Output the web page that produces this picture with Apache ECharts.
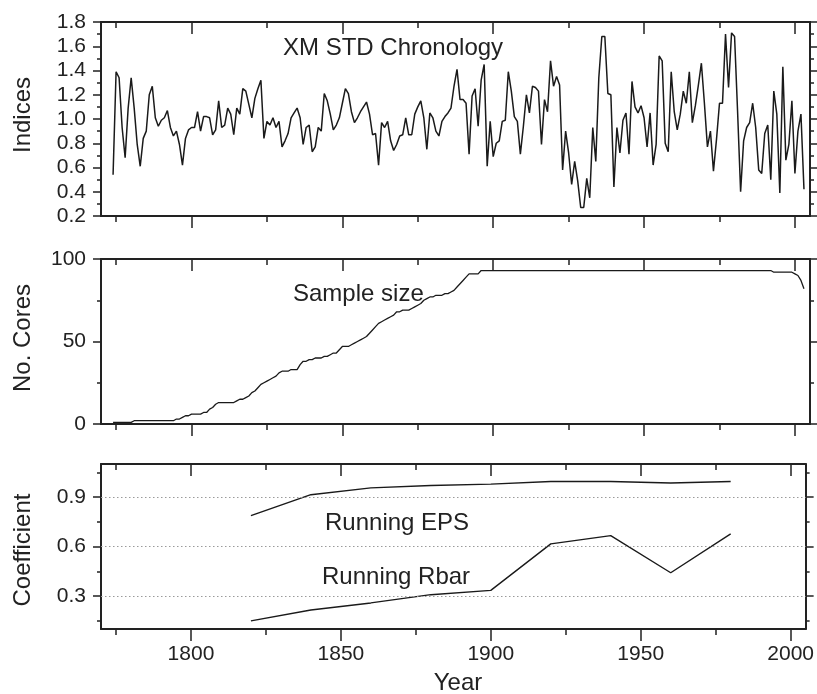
<!DOCTYPE html>
<html><head><meta charset="utf-8">
<script src="https://cdn.jsdelivr.net/npm/echarts@6/dist/echarts.min.js"></script>
<style>html,body{margin:0;padding:0;background:#fff}#c{width:817px;height:694px}</style>
</head><body><div id="c"></div>
<script>
// ---------------- data ----------------
const chronStartYear = 1774;
const chronValues = [
  0.54,1.39,1.34,0.93,0.68,1.09,                               // 1774-1779
  1.34,1.09,0.79,0.61,0.84,0.90,1.20,1.27,1.01,0.94,           // 1780s
  0.99,1.01,1.07,0.93,0.86,0.90,0.79,0.62,0.84,0.91,           // 1790s
  0.93,0.93,1.06,0.90,1.02,1.02,1.01,0.87,0.91,1.15,           // 1800s
  0.93,0.95,1.09,1.04,0.87,1.09,1.04,1.25,1.23,1.12,           // 1810s
  1.01,1.17,1.25,1.32,0.84,0.98,0.95,1.01,0.93,0.98,           // 1820s
  0.77,0.82,0.88,1.01,1.05,1.09,1.01,0.79,0.93,0.95,           // 1830s
  0.73,0.77,0.93,0.90,1.21,1.15,1.04,0.91,0.95,1.01,           // 1840s
  1.13,1.25,1.21,1.06,0.97,1.01,1.06,1.10,1.14,1.04,           // 1850s
  0.87,0.88,0.62,0.97,0.93,0.98,0.82,0.74,0.79,0.86,           // 1860s
  0.87,1.01,0.87,0.87,1.04,1.10,1.15,1.01,0.75,1.05,           // 1870s
  1.01,0.90,0.86,0.98,1.02,1.05,1.09,1.27,1.41,1.16,           // 1880s
  1.16,1.13,0.71,1.19,1.25,0.94,1.32,1.45,0.61,0.98,           // 1890s
  0.69,0.80,0.82,0.98,0.99,1.39,1.23,1.02,0.98,0.71,           // 1900s
  0.94,1.20,1.05,1.27,1.26,1.23,0.79,1.16,1.06,1.48,           // 1910s
  1.27,1.35,1.28,0.58,0.90,0.72,0.46,0.65,0.49,0.27,           // 1920s
  0.27,0.51,0.35,0.93,0.65,1.34,1.68,1.68,1.21,1.20,           // 1930s
  0.44,0.93,0.72,0.99,1.05,0.71,1.31,1.10,1.05,1.11,           // 1940s
  1.01,0.77,1.05,0.62,0.79,1.52,1.48,0.80,0.73,1.39,           // 1950s
  1.06,0.91,1.04,1.23,1.13,1.39,0.97,1.11,1.28,1.46,           // 1960s
  1.13,0.77,0.90,0.57,0.83,1.13,1.13,1.70,1.26,1.71,           // 1970s
  1.68,1.06,0.40,0.82,0.93,0.97,1.13,0.93,0.58,0.55,           // 1980s
  0.88,0.95,0.50,1.23,1.04,0.39,1.43,0.66,0.79,1.15,           // 1990s
  0.55,0.90,1.04,0.42                                          // 2000-2003
];
const sampleStartYear = 1774;
const sampleValues = [
  1,1,1,1,1,1,                   // 1774-1779
  1,2,2,2,2,2,2,2,2,2,           // 1780s
  2,2,2,2,2,3,3,4,5,5,           // 1790s
  6,6,6,6,7,7,9,10,12,13,        // 1800s
  13,13,13,13,13,14,15,15,16,17, // 1810s
  19,20,22,24,25,26,27,28,29,31, // 1820s
  32,32,32,33,33,33,36,38,38,39, // 1830s
  39,40,40,40,41,41,42,43,43,45, // 1840s
  47,47,47,48,49,50,51,52,53,55, // 1850s
  57,59,61,62,63,64,65,66,68,68, // 1860s
  69,69,69,70,71,72,73,75,76,77, // 1870s
  77,78,78,78,79,79,80,81,83,85, // 1880s
  87,89,91,91,91,91,93,93,93,93, // 1890s
  93,93,93,93,93,93,93,93,93,93, // 1900s
  93,93,93,93,93,93,93,93,93,93, // 1910s
  93,93,93,93,93,93,93,93,93,93, // 1920s
  93,93,93,93,93,93,93,93,93,93, // 1930s
  93,93,93,93,93,93,93,93,93,93, // 1940s
  93,93,93,93,93,93,93,93,93,93, // 1950s
  93,93,93,93,93,93,93,93,93,93, // 1960s
  93,93,93,93,93,93,93,93,93,93, // 1970s
  93,93,93,93,93,93,93,93,93,93, // 1980s
  93,93,93,92,92,92,92,92,92,92, // 1990s
  91,90,87,82                    // 2000-2003
];
const statYears  = [1820, 1840, 1860, 1880, 1900, 1920, 1940, 1960, 1980];
const epsValues  = [0.787, 0.914, 0.955, 0.970, 0.978, 0.994, 0.994, 0.985, 0.994];
const rbarValues = [0.149, 0.215, 0.258, 0.308, 0.334, 0.616, 0.666, 0.441, 0.677];

const yearRange = [1770, 2005];
const yearTicksMajor = [1800, 1850, 1900, 1950, 2000];
const yearTicksMinor = [1775, 1825, 1875, 1925, 1975];
const chronRange = [0.2, 1.8];
const chronTicks = [0.2, 0.4, 0.6, 0.8, 1.0, 1.2, 1.4, 1.6, 1.8];
const chronMinorTicks = [0.3, 0.5, 0.7, 0.9, 1.1, 1.3, 1.5, 1.7];
const coreRange = [0, 100];
const coreTicks = [0, 50, 100];
const coreMinorTicks = [25, 75];
const coefRange = [0.1, 1.1];
const coefTicks = [0.3, 0.6, 0.9];
const coefMinorTicks = [0.15, 0.45, 0.75, 1.05];
const coefRefLines = [0.3, 0.6, 0.9];

// ---------------- build ----------------
const FONT = "'Liberation Sans', Arial, Helvetica, sans-serif";
const INK = '#222';
const LABEL_SIZE = 21;
const grids = [
  {left: 101, right: 7, top: 22,  height: 194},
  {left: 101, right: 7, top: 259, height: 165},
  {left: 101, right: 7, top: 464, height: 165}
];
const xAxes = [], yAxes = [];

function addX(gi, pos, ticks, len, inside, showLine, showLabels) {
  xAxes.push({
    type: 'value', gridIndex: gi, position: pos, min: yearRange[0], max: yearRange[1],
    axisLine: {show: showLine, onZero: false, lineStyle: {color: INK, width: 2}},
    axisTick: {show: true, customValues: ticks, length: len, inside: inside, lineStyle: {color: INK, width: 1.5}},
    axisLabel: {show: showLabels, customValues: ticks, margin: 15, color: INK, fontSize: LABEL_SIZE,
      fontFamily: FONT, formatter: v => String(Math.round(v))},
    splitLine: {show: false}
  });
  return xAxes.length - 1;
}
function addY(gi, pos, range, ticks, len, showLine, showLabels, fmt) {
  yAxes.push({
    type: 'value', gridIndex: gi, position: pos, min: range[0], max: range[1],
    axisLine: {show: showLine, onZero: false, lineStyle: {color: INK, width: 2}},
    axisTick: {show: true, customValues: ticks, length: len, inside: false, lineStyle: {color: INK, width: 1.5}},
    axisLabel: {show: showLabels, customValues: ticks, margin: 15, color: INK, fontSize: LABEL_SIZE,
      fontFamily: FONT, formatter: fmt},
    splitLine: {show: false}
  });
  return yAxes.length - 1;
}
function panel(gi, showXLabels, range, ticks, minor, fmt) {
  const xi = addX(gi, 'bottom', yearTicksMajor, 12, false, true, showXLabels);
  addX(gi, 'bottom', yearTicksMinor, 6, false, false, false);
  addX(gi, 'top', yearTicksMajor, 12, true, true, false);
  addX(gi, 'top', yearTicksMinor, 6, true, false, false);
  const yi = addY(gi, 'left', range, ticks, 8, true, true, fmt);
  addY(gi, 'left', range, minor, 4, false, false, fmt);
  addY(gi, 'right', range, ticks, 8, true, false, fmt);
  addY(gi, 'right', range, minor, 4, false, false, fmt);
  return {xi, yi};
}
const p1 = panel(0, false, chronRange, chronTicks, chronMinorTicks, v => v.toFixed(1));
const p2 = panel(1, false, coreRange, coreTicks, coreMinorTicks, v => String(Math.round(v)));
const p3 = panel(2, true, coefRange, coefTicks, coefMinorTicks, v => v.toFixed(1));

const chronData = chronValues.map((v, i) => [chronStartYear + i, v]);
const sampleData = sampleValues.map((v, i) => [sampleStartYear + i, v]);
const epsData = statYears.map((y, i) => [y, epsValues[i]]);
const rbarData = statYears.map((y, i) => [y, rbarValues[i]]);

function lineSeries(p, data, w, extra) {
  return Object.assign({
    type: 'line', xAxisIndex: p.xi, yAxisIndex: p.yi, data: data,
    showSymbol: false, symbol: 'none', smooth: false, animation: false,
    lineStyle: {color: '#1a1a1a', width: w}
  }, extra || {});
}

function txt(x, y, s, size, align, rot) {
  return {type: 'text', x: x, y: y, rotation: rot || 0, silent: true,
    style: {text: s, font: size + 'px ' + FONT, fill: INK, align: align, verticalAlign: 'middle'}};
}

const option = {
  backgroundColor: '#fff',
  animation: false,
  grid: grids,
  xAxis: xAxes,
  yAxis: yAxes,
  series: [
    lineSeries(p1, chronData, 1.5),
    lineSeries(p2, sampleData, 1.3),
    lineSeries(p3, epsData, 1.4),
    lineSeries(p3, rbarData, 1.4, {
      markLine: {
        silent: true, symbol: 'none', label: {show: false}, animation: false,
        lineStyle: {color: '#9a9a9a', width: 1, type: [1.5, 2.5]},
        data: coefRefLines.map(v => ({yAxis: v}))
      }
    })
  ],
  graphic: [
    txt(23, 115, 'Indices', 24, 'center', Math.PI / 2),
    txt(23, 338, 'No. Cores', 24, 'center', Math.PI / 2),
    txt(23, 550, 'Coefficient', 24, 'center', Math.PI / 2),
    txt(458, 683, 'Year', 24, 'center'),
    txt(283, 48, 'XM STD Chronology', 24, 'left'),
    txt(293, 294, 'Sample size', 24, 'left'),
    txt(325, 523, 'Running EPS', 24, 'left'),
    txt(322, 577, 'Running Rbar', 24, 'left')
  ]
};
const chart = echarts.init(document.getElementById('c'), null, {renderer: 'canvas'});
chart.setOption(option);
</script>
</body></html>
